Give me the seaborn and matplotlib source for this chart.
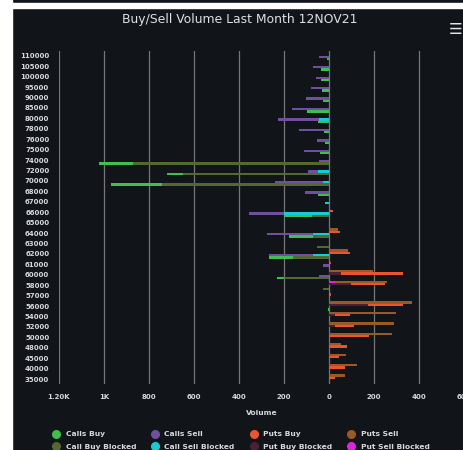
import matplotlib
matplotlib.use('Agg')
import matplotlib.pyplot as plt
from matplotlib.lines import Line2D
from matplotlib.patches import Rectangle
import seaborn as sns
import pandas as pd

# strikes, top to bottom
strikes = [110000, 105000, 100000, 95000, 90000, 85000, 80000, 78000, 76000, 75000,
           74000, 72000, 70000, 68000, 67000, 66000, 65000, 64000, 63000, 62000,
           61000, 60000, 58000, 57000, 56000, 54000, 52000, 50000, 48000, 45000,
           40000, 35000]

calls_buy = [9, 36, 35, 32, 26, 98, 51, 22, 18, 38,
             153, 69, 228, 48, 0, 125, 0, 110, 0, 110,
             0, 29, 0, 0, 4, 0, 0, 0, 0, 0, 0, 0]
call_buy_blocked = [0, 0, 0, 0, 0, 0, 0, 0, 0, 0,
                    869, 649, 740, 0, 0, 77, 0, 70, 53, 158,
                    0, 202, 28, 0, 0, 0, 0, 0, 0, 0, 0, 0]
calls_sell = [45, 73, 58, 80, 102, 164, 182, 132, 55, 110,
              44, 44, 216, 107, 0, 154, 0, 205, 0, 195,
              26, 45, 0, 0, 0, 0, 0, 0, 0, 0, 0, 0]
call_sell_blocked = [0, 0, 0, 0, 0, 0, 45, 0, 0, 0,
                     0, 48, 26, 0, 19, 202, 0, 70, 0, 70,
                     0, 0, 0, 0, 0, 0, 0, 0, 0, 0, 0, 0]
puts_buy = [0, 0, 0, 0, 0, 0, 0, 0, 0, 0,
            0, 0, 0, 0, 0, 18, 0, 50, 0, 94,
            9, 274, 151, 8, 155, 68, 86, 177, 81, 44, 73, 25]
put_buy_blocked = [0, 0, 0, 0, 0, 0, 0, 0, 0, 0,
                   0, 0, 0, 0, 0, 0, 0, 0, 0, 0,
                   0, 53, 98, 0, 175, 26, 27, 0, 0, 0, 0, 0]
puts_sell = [0, 0, 0, 0, 0, 0, 0, 0, 0, 0,
             0, 0, 0, 0, 0, 0, 0, 38, 0, 84,
             0, 196, 234, 0, 367, 296, 289, 278, 54, 76, 123, 73]
put_sell_blocked = [0, 0, 0, 0, 0, 0, 0, 0, 0, 0,
                    0, 0, 0, 0, 0, 0, 0, 0, 0, 0,
                    0, 0, 25, 0, 0, 0, 0, 0, 0, 0, 0, 0]

x_ticks = [-1200, -1000, -800, -600, -400, -200, 0, 200, 400, 600]
x_labels = ['1.20K', '1K', '800', '600', '400', '200', '0', '200', '400', '600']

bg = '#111419'
txt = '#d8d8dc'
colors = {
    'Calls Buy': '#3fbf4f', 'Call Buy Blocked': '#53692f',
    'Calls Sell': '#6e509c', 'Call Sell Blocked': '#16cbd4',
    'Puts Buy': '#ee5330', 'Put Buy Blocked': '#4b1f34',
    'Puts Sell': '#9a5a28', 'Put Sell Blocked': '#e022e0',
}

labels = [str(s) for s in strikes]
stacks = ['Puts Sell', 'Puts Buy', 'Calls Sell', 'Calls Buy']
rows = []
for i, s in enumerate(labels):
    rows.append((s, 'Puts Sell', puts_sell[i] + put_sell_blocked[i], put_sell_blocked[i]))
    rows.append((s, 'Puts Buy', puts_buy[i] + put_buy_blocked[i], put_buy_blocked[i]))
    rows.append((s, 'Calls Sell', -(calls_sell[i] + call_sell_blocked[i]), -call_sell_blocked[i]))
    rows.append((s, 'Calls Buy', -(calls_buy[i] + call_buy_blocked[i]), -call_buy_blocked[i]))
df = pd.DataFrame(rows, columns=['strike', 'stack', 'total', 'blocked'])

outer_pal = {k: colors[k] for k in stacks}
inner_pal = {'Puts Sell': colors['Put Sell Blocked'], 'Puts Buy': colors['Put Buy Blocked'],
             'Calls Sell': colors['Call Sell Blocked'], 'Calls Buy': colors['Call Buy Blocked']}

fig = plt.figure(figsize=(4.63, 4.5), dpi=100, facecolor=bg)
# white frame bits of the screenshot
fig.patches.append(Rectangle((0, 0), 12 / 463, 1, transform=fig.transFigure, color='white', zorder=0))
fig.patches.append(Rectangle((0, 1 - 7.5 / 450), 1, 5 / 450, transform=fig.transFigure, color='white', zorder=0))

ax = fig.add_axes([59 / 463, 1 - 384.3 / 450, 405 / 463, 333.8 / 450])
ax.set_facecolor(bg)

sns.barplot(data=df, x='total', y='strike', hue='stack', hue_order=stacks, order=labels,
            orient='h', palette=outer_pal, width=0.9, saturation=1, errorbar=None,
            linewidth=0, legend=False, ax=ax)
sns.barplot(data=df, x='blocked', y='strike', hue='stack', hue_order=stacks, order=labels,
            orient='h', palette=inner_pal, width=0.9, saturation=1, errorbar=None,
            linewidth=0, legend=False, ax=ax)

ax.set_xlim(-1200, 600)
ax.set_xticks(x_ticks)
ax.set_xticklabels(x_labels)
ax.grid(axis='x', color='#767676', linewidth=0.9)
ax.grid(axis='y', visible=False)
ax.set_axisbelow(True)
for sp in ax.spines.values():
    sp.set_visible(False)
ax.tick_params(length=0, colors=txt, labelsize=5, pad=7)
for t in ax.get_xticklabels() + ax.get_yticklabels():
    t.set_fontweight('bold')
ax.set_ylabel('')
ax.set_xlabel('Volume', color=txt, fontsize=5.4, fontweight='bold', labelpad=7)

fig.text(240 / 463, 1 - 19.5 / 450, 'Buy/Sell Volume Last Month 12NOV21', ha='center', va='center',
         color='#e0e0e3', fontsize=8.9)
fig.text(456 / 463, 1 - 30 / 450, '\u2630', ha='center', va='center', color='#e6e6e6', fontsize=11)

order = ['Calls Buy', 'Call Buy Blocked', 'Calls Sell', 'Call Sell Blocked',
         'Puts Buy', 'Put Buy Blocked', 'Puts Sell', 'Put Sell Blocked']
handles = [Line2D([], [], marker='o', linestyle='', markersize=5.5,
                  markerfacecolor=colors[k], markeredgecolor=colors[k]) for k in order]
leg = fig.legend(handles, order, ncol=4, loc='upper left', bbox_to_anchor=(52 / 463, 1 - 431 / 450),
                 frameon=False, borderpad=0, borderaxespad=0, handlelength=1.0, handletextpad=0.8,
                 columnspacing=2.0, labelspacing=0.85, prop={'size': 5.4, 'weight': 'bold'})
for t in leg.get_texts():
    t.set_color(txt)

fig.savefig('out.png', dpi=100, facecolor=bg)
